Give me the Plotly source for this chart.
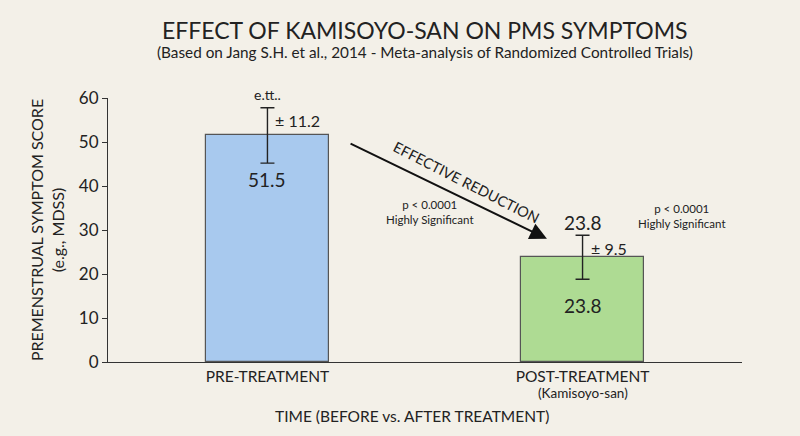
import plotly.graph_objects as go

# data
categories = ["PRE-TREATMENT", "POST-TREATMENT"]
sub_labels = ["", "(Kamisoyo-san)"]
scores = [51.5, 23.8]
sd_labels = [11.2, 9.5]          # what the labels say
err_drawn = [6.3, 5.0]           # length of the whiskers as drawn
bar_colors = ["#a8c9ee", "#aedb93"]

BG = "#f3f0e8"
INK = "#222222"
FONT = "Lato, 'Open Sans', Arial, sans-serif"

xs = list(range(len(categories)))

fig = go.Figure()
fig.add_trace(go.Bar(
    x=xs, y=scores,
    width=0.39,
    marker=dict(color=bar_colors, line=dict(color="#555555", width=1.2)),
    error_y=dict(type="data", array=err_drawn, visible=True,
                 color=INK, thickness=1.4, width=7),
    hoverinfo="skip",
))

ann = []
# value labels inside bars
for x, v, sh in zip(xs, scores, [-44, -48]):
    ann.append(dict(x=x, y=v, text=f"{v}", showarrow=False, yshift=sh,
                    font=dict(size=19, color=INK)))
# +/- labels next to whiskers
for x, v, e, s in zip(xs, scores, err_drawn, sd_labels):
    ann.append(dict(x=x, y=v + e, text=f"± {s}", showarrow=False,
                    xanchor="left", xshift=6, yshift=-13,
                    font=dict(size=16, color=INK)))
# stray label above first whisker
ann.append(dict(x=xs[0], y=scores[0] + err_drawn[0], text="e.tt..", showarrow=False,
                yshift=13, font=dict(size=14, color=INK)))
# value above second bar
ann.append(dict(x=xs[1], y=scores[1], text=f"{scores[1]}", showarrow=False,
                yshift=35, font=dict(size=19, color=INK)))
# second line under the tick labels
for x, s in zip(xs, sub_labels):
    if s:
        ann.append(dict(x=x, y=0, text=s, showarrow=False, yanchor="middle",
                        yshift=-31, font=dict(size=13.5, color=INK)))

# reduction arrow
ann.append(dict(x=0.887, y=28.0, ax=0.259, ay=49.8, xref="x", yref="y",
                axref="x", ayref="y", text="", showarrow=True,
                arrowhead=2, arrowsize=1.7, arrowwidth=2, arrowcolor="#111111"))
ann.append(dict(x=0.633, y=40.9, text="EFFECTIVE REDUCTION", showarrow=False,
                textangle=27, font=dict(size=14.5, color=INK)))
ann.append(dict(x=0.516, y=34.0, text="p < 0.0001<br>Highly Significant",
                showarrow=False, font=dict(size=11.5, color=INK)))
ann.append(dict(x=1.316, y=33.1, text="p < 0.0001<br>Highly Significant",
                showarrow=False, font=dict(size=11.5, color=INK)))

# titles
ann += [
    dict(xref="paper", yref="paper", x=0.5, y=1.0, xanchor="center", yanchor="middle",
         text="EFFECT OF KAMISOYO-SAN ON PMS SYMPTOMS", showarrow=False, yshift=68,
         font=dict(size=23, color=INK)),
    dict(xref="paper", yref="paper", x=0.5, y=1.0, xanchor="center", yanchor="middle",
         text="(Based on Jang S.H. et al., 2014 - Meta-analysis of Randomized Controlled Trials)",
         showarrow=False, yshift=46, font=dict(size=15.3, color=INK)),
    dict(xref="paper", yref="paper", x=0.48, y=0, xanchor="center", yanchor="middle",
         text="TIME (BEFORE vs. AFTER TREATMENT)", showarrow=False, yshift=-54,
         font=dict(size=15.5, color=INK)),
]

fig.update_layout(
    annotations=ann,
    width=800, height=436,
    margin=dict(l=108, r=58, t=98, b=74),
    paper_bgcolor=BG, plot_bgcolor=BG,
    font=dict(family=FONT, color=INK),
    showlegend=False,
    bargap=0,
)
fig.update_xaxes(
    range=[-0.506, 1.506], tickvals=xs, ticktext=categories,
    showline=True, linecolor="#333333", linewidth=1.2, ticks="",
    showgrid=False, zeroline=False, tickfont=dict(size=15.5, color=INK),
)
fig.update_yaxes(
    range=[0, 60], tickvals=[0, 10, 20, 30, 40, 50, 60],
    showline=True, linecolor="#333333", linewidth=1.2,
    ticks="outside", ticklen=5, tickcolor="#333333",
    showgrid=False, zeroline=False, tickfont=dict(size=17, color=INK),
    title=dict(text="PREMENSTRUAL SYMPTOM SCORE<br>(e.g., MDSS)",
               font=dict(size=16, color=INK), standoff=10),
)

# page body has a default 8px margin; drop it so the chart sits at 0,0
fig.write_html("out.html", config={"displayModeBar": False},
               post_script="document.body.style.margin='0';")
